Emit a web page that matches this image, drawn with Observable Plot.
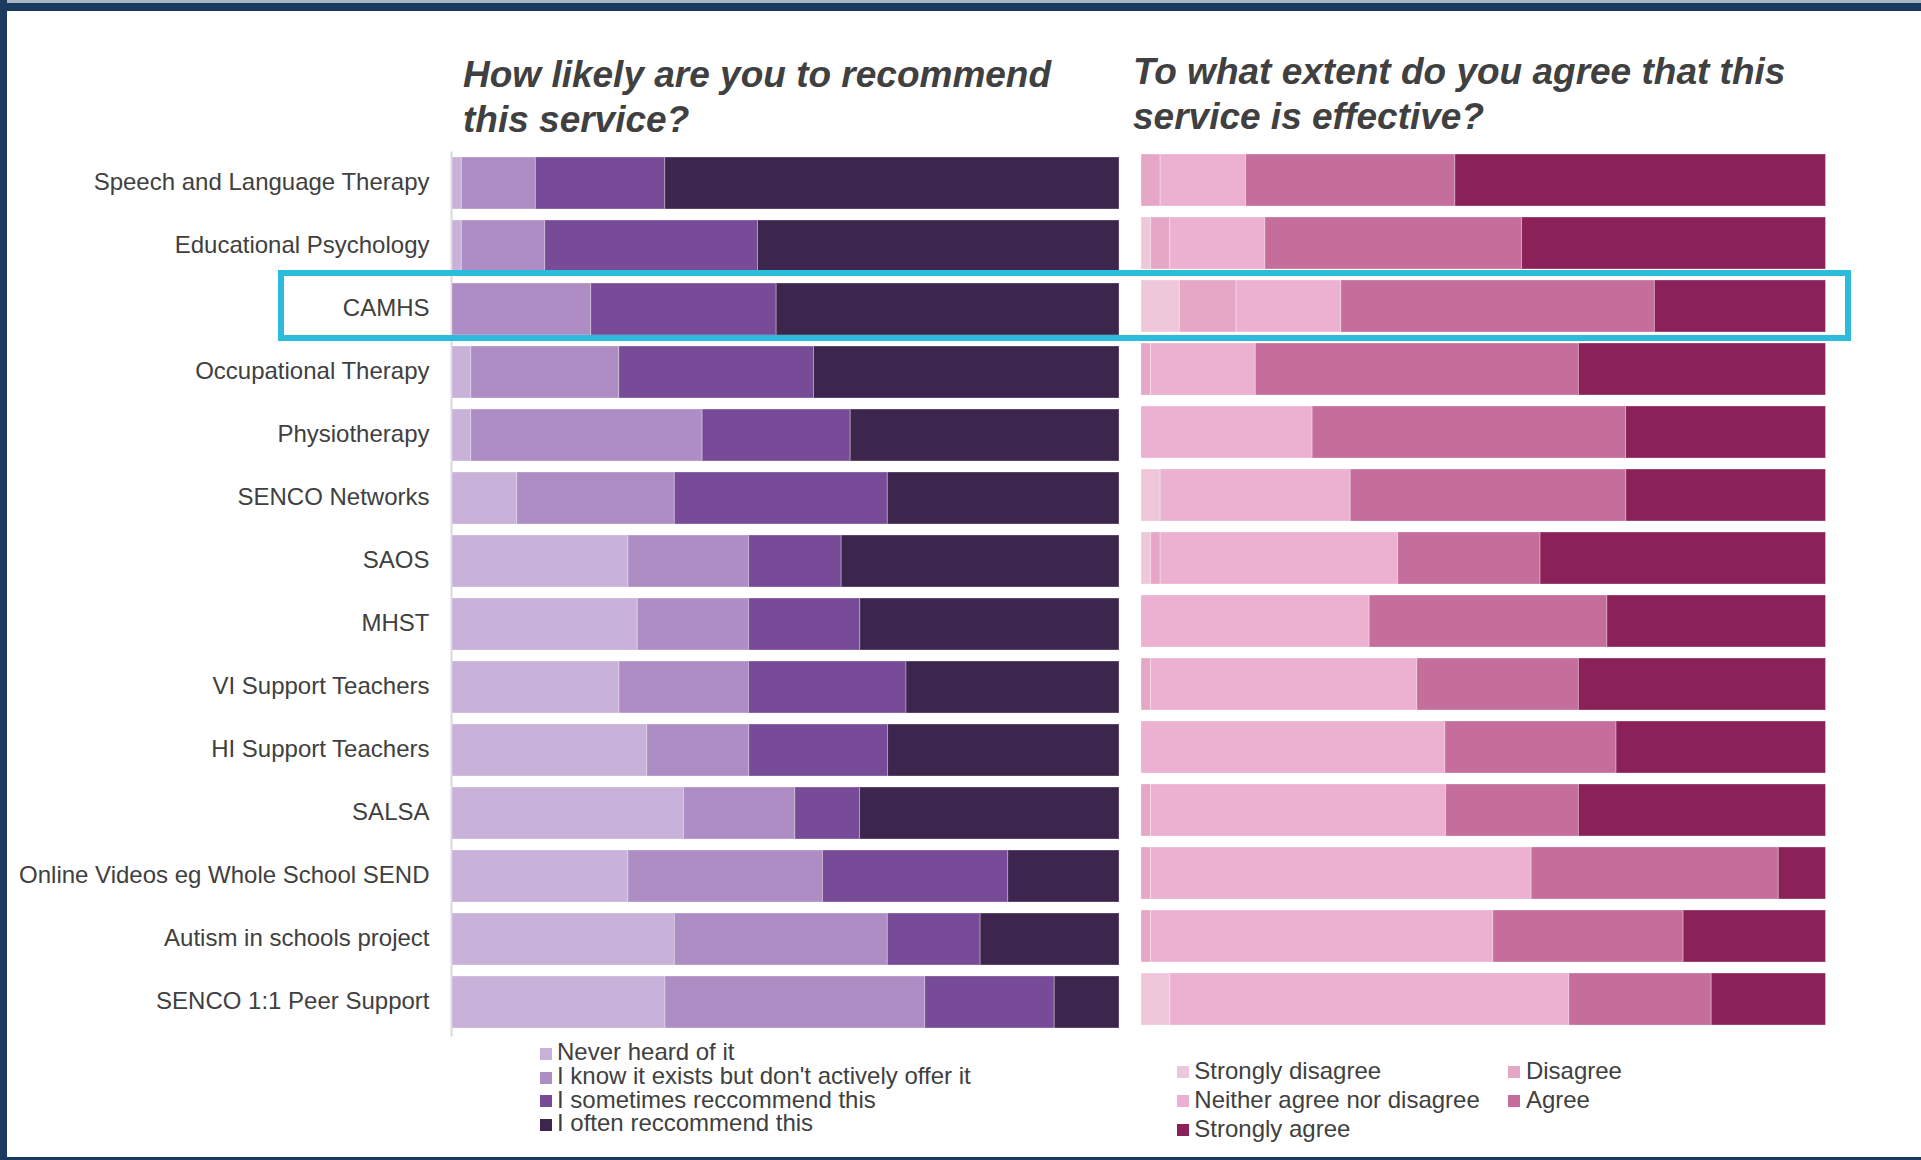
<!DOCTYPE html>
<html>
<head>
<meta charset="utf-8">
<script src="https://cdn.jsdelivr.net/npm/d3@7"></script>
<script src="https://cdn.jsdelivr.net/npm/@observablehq/plot@0.6"></script>
<style>
  html, body { margin: 0; padding: 0; background: #ffffff; }
  #root { position: relative; width: 1921px; height: 1160px; overflow: hidden;
          font-family: "Liberation Sans", Arial, sans-serif; color: #404040; background: #ffffff; }
  .abs { position: absolute; }
  .title { position: absolute; font-size: 37px; line-height: 44.5px; font-weight: bold; font-style: italic;
           color: #404040; white-space: nowrap; }
  .legtext { position: absolute; font-size: 24px; line-height: 24px; white-space: nowrap; color: #404040; }
  .sw { position: absolute; }
</style>
</head>
<body>
<div id="root"></div>
<script>
// ---------------- DATA ----------------
const services = [
  "Speech and Language Therapy",
  "Educational Psychology",
  "CAMHS",
  "Occupational Therapy",
  "Physiotherapy",
  "SENCO Networks",
  "SAOS",
  "MHST",
  "VI Support Teachers",
  "HI Support Teachers",
  "SALSA",
  "Online Videos eg Whole School SEND",
  "Autism in schools project",
  "SENCO 1:1 Peer Support"
];

// Left panel: How likely are you to recommend this service? (% of respondents)
const recommendCategories = [
  "Never heard of it",
  "I know it exists but don't actively offer it",
  "I sometimes reccommend this",
  "I often reccommend this"
];
const recommendColors = ["#c8b2d9", "#ae8dc5", "#784b98", "#3c264e"];
const neverHeard   = [1.4, 1.4, 0.0, 2.8, 2.8, 9.7, 26.4, 27.8, 25.0, 29.2, 34.7, 26.4, 33.3, 31.9];
const knowNoOffer  = [11.1, 12.5, 20.8, 22.2, 34.7, 23.6, 18.1, 16.7, 19.4, 15.3, 16.7, 29.2, 31.9, 38.9];
const sometimesRec = [19.4, 31.9, 27.8, 29.2, 22.2, 31.9, 13.9, 16.7, 23.6, 20.8, 9.7, 27.8, 13.9, 19.4];
const oftenRec     = [68.1, 54.2, 51.4, 45.8, 40.3, 34.7, 41.7, 38.9, 31.9, 34.7, 38.9, 16.7, 20.8, 9.7];

// Right panel: To what extent do you agree that this service is effective? (% of respondents)
const agreeCategories = [
  "Strongly disagree",
  "Disagree",
  "Neither agree nor disagree",
  "Agree",
  "Strongly agree"
];
const agreeColors = ["#efc7da", "#e6a7c6", "#ecb1d0", "#c56e9b", "#8a2259"];
const stronglyDisagree = [0.0, 1.4, 5.6, 0.0, 0.0, 2.8, 1.4, 0.0, 0.0, 0.0, 0.0, 0.0, 0.0, 4.2];
const disagree         = [2.8, 2.8, 8.3, 1.4, 0.0, 0.0, 1.4, 0.0, 1.4, 0.0, 1.4, 1.4, 1.4, 0.0];
const neitherAgree     = [12.5, 13.9, 15.3, 15.3, 25.0, 27.8, 34.7, 33.3, 38.9, 44.4, 43.1, 55.6, 50.0, 58.3];
const agree            = [30.6, 37.5, 45.8, 47.2, 45.8, 40.3, 20.8, 34.7, 23.6, 25.0, 19.4, 36.1, 27.8, 20.8];
const stronglyAgree    = [54.2, 44.4, 25.0, 36.1, 29.2, 29.2, 41.7, 31.9, 36.1, 30.6, 36.1, 6.9, 20.8, 16.7];

const highlighted = "CAMHS";

// ---------------- TABLES ----------------
const recommendSeries = [neverHeard, knowNoOffer, sometimesRec, oftenRec];
const recommendRows = [];
services.forEach((s, i) => recommendCategories.forEach((c, k) =>
  recommendRows.push({service: s, category: c, value: recommendSeries[k][i]})));

const agreeSeries = [stronglyDisagree, disagree, neitherAgree, agree, stronglyAgree];
const agreeRows = [];
services.forEach((s, i) => agreeCategories.forEach((c, k) =>
  agreeRows.push({service: s, category: c, value: agreeSeries[k][i]})));

// ---------------- LAYOUT ----------------
const root = document.getElementById("root");
const FONT = '"Liberation Sans", Arial, sans-serif';

function addDiv(cls, css, html) {
  const d = document.createElement("div");
  if (cls) d.className = cls;
  Object.assign(d.style, css);
  if (html !== undefined) d.innerHTML = html;
  root.appendChild(d);
  return d;
}

// frame
addDiv("abs", {left: "0px", top: "0px", width: "1921px", height: "3px", background: "#aab6c6"});
addDiv("abs", {left: "0px", top: "3px", width: "1921px", height: "8px", background: "#1b3a5f"});
addDiv("abs", {left: "0px", top: "0px", width: "7px", height: "1160px", background: "#1b3a5f"});
addDiv("abs", {left: "0px", top: "1157px", width: "1921px", height: "3px", background: "#1b3a5f"});

// titles
addDiv("title", {left: "463px", top: "53px"}, "How likely are you to recommend<br>this service?");
addDiv("title", {left: "1133px", top: "50px"}, "To what extent do you agree that this<br>service is effective?");

const H = 1160;
const bandPadding = 0.17;

const leftPlot = Plot.plot({
  width: 1130,
  height: H,
  marginLeft: 452,
  marginRight: 11,
  marginTop: 144.5,
  marginBottom: 119.4,
  x: {domain: [0, 1], axis: null},
  y: {domain: services, padding: bandPadding, label: null},
  color: {domain: recommendCategories, range: recommendColors},
  style: {fontFamily: FONT, fontSize: "24px", color: "#404040", background: "transparent", overflow: "visible"},
  marks: [
    Plot.ruleX([0], {stroke: "#d9d9d9", strokeWidth: 2, dx: -1, insetTop: 7, insetBottom: 4}),
    Plot.barX(recommendRows, Plot.stackX({
      offset: "normalize", x: "value", y: "service", fill: "category",
      stroke: "#ffffff", strokeOpacity: 0.3, strokeWidth: 1
    })),
    Plot.axisY({tickSize: 0, tickPadding: 23, fontSize: 24, dy: -1.5, label: null, fill: "#404040"})
  ]
});
leftPlot.style.position = "absolute";
leftPlot.style.left = "0px";
leftPlot.style.top = "0px";
root.appendChild(leftPlot);

const rightPlot = Plot.plot({
  width: 791,
  height: H,
  marginLeft: 11,
  marginRight: 95.5,
  marginTop: 141.5,
  marginBottom: 122.4,
  x: {domain: [0, 1], axis: null},
  y: {domain: services, padding: bandPadding, axis: null},
  color: {domain: agreeCategories, range: agreeColors},
  style: {fontFamily: FONT, fontSize: "24px", color: "#404040", background: "transparent", overflow: "visible"},
  marks: [
    Plot.barX(agreeRows, Plot.stackX({
      offset: "normalize", x: "value", y: "service", fill: "category",
      stroke: "#ffffff", strokeOpacity: 0.3, strokeWidth: 1
    }))
  ]
});
rightPlot.style.position = "absolute";
rightPlot.style.left = "1130px";
rightPlot.style.top = "0px";
root.appendChild(rightPlot);

// highlight box around CAMHS row, positioned with the left plot's y scale
const ys = leftPlot.scale("y");
const bandTop = ys.apply(highlighted);
const bw = ys.bandwidth;
const boxTop = bandTop - 13.4;
const boxBottom = bandTop + bw + 5.7;
addDiv("abs", {
  left: "278px", top: boxTop + "px", width: (1851 - 278) + "px", height: (boxBottom - boxTop) + "px",
  border: "6px solid #2dbbdb", boxSizing: "border-box"
});

// legends
const cs = leftPlot.scale("color");
recommendCategories.forEach((c, i) => {
  const base = 1060.5 + i * 23.7;
  addDiv("sw", {left: "540px", top: (base - 12.5) + "px", width: "12px", height: "12px", background: cs.apply(c)});
  const t = addDiv("legtext", {left: "557px", top: (base - 20.3) + "px"});
  t.textContent = c;
});

const cs2 = rightPlot.scale("color");
const colX = [1176.7, 1508.3];
const rowBase = [1079, 1108, 1137.3];
agreeCategories.forEach((c, i) => {
  const r = Math.floor(i / 2), col = i % 2;
  const base = rowBase[r];
  addDiv("sw", {left: colX[col] + "px", top: (base - 13.4) + "px", width: "12px", height: "12px", background: cs2.apply(c)});
  const t = addDiv("legtext", {left: (colX[col] + 17.6) + "px", top: (base - 20.3) + "px"});
  t.textContent = c;
});
</script>
</body>
</html>
